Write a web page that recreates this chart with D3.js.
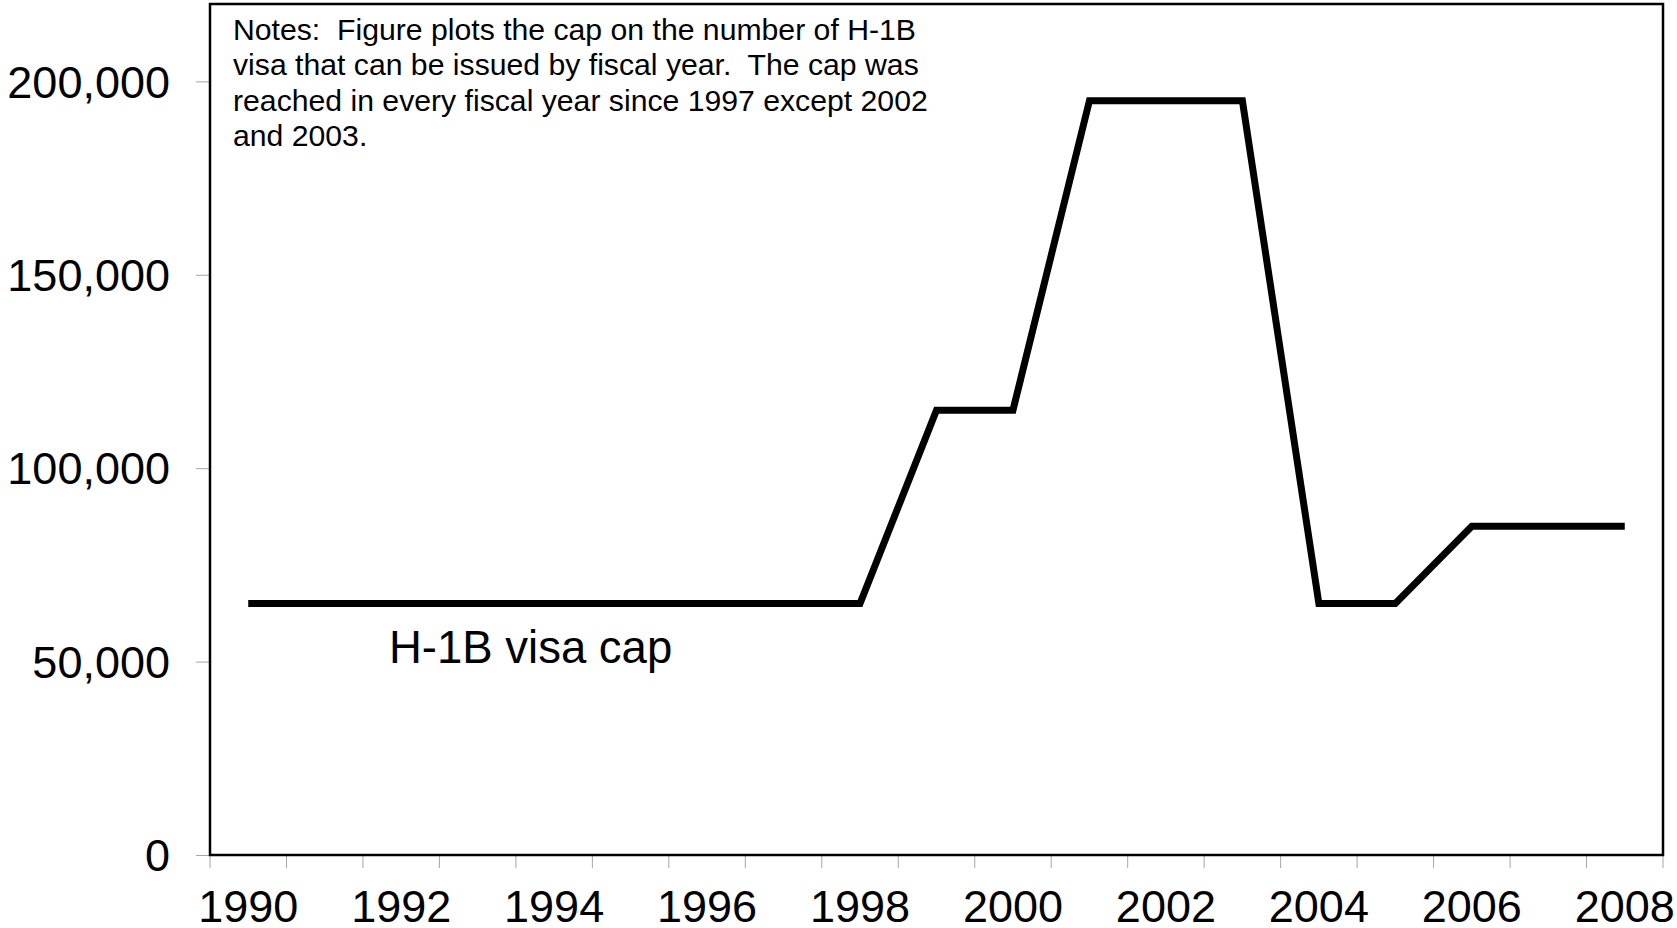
<!DOCTYPE html>
<html>
<head>
<meta charset="utf-8">
<script src="https://cdn.jsdelivr.net/npm/d3@7"></script>
<style>
  html, body { margin: 0; padding: 0; background: #fff; }
  svg { display: block; }
  text { font-family: "Liberation Sans", Arial, sans-serif; fill: #000; }
</style>
</head>
<body>
<svg id="chart" width="1677" height="928"></svg>
<script>
const years = [1990,1991,1992,1993,1994,1995,1996,1997,1998,1999,2000,2001,2002,2003,2004,2005,2006,2007,2008];
const capValues = [65000,65000,65000,65000,65000,65000,65000,65000,65000,115000,115000,195000,195000,195000,65000,65000,85000,85000,85000];
const yTicks = [0,50000,100000,150000,200000];
const xTickLabels = [1990,1992,1994,1996,1998,2000,2002,2004,2006,2008];
const seriesLabel = "H-1B visa cap";
const notesLines = [
  "Notes:  Figure plots the cap on the number of H-1B",
  "visa that can be issued by fiscal year.  The cap was",
  "reached in every fiscal year since 1997 except 2002",
  "and 2003."
];

const svg = d3.select("#chart");
const mLeft = 210, mRight = 1663, mTop = 4, mBottom = 855;

const x = d3.scaleBand().domain(years).range([mLeft, mRight]).padding(0);
const y = d3.scaleLinear().domain([0, 220000]).range([mBottom, mTop]);

// Y axis ticks + labels
const yAxis = d3.axisLeft(y).tickValues(yTicks).tickSize(14).tickPadding(26)
  .tickFormat(d3.format(","));
const gy = svg.append("g").attr("transform", `translate(${mLeft},0)`).call(yAxis);
gy.select(".domain").remove();
gy.selectAll(".tick line").attr("stroke", "#a6a6a6").attr("stroke-width", 1);
gy.selectAll(".tick text").attr("font-size", 45).attr("font-family", "Liberation Sans, Arial, sans-serif").attr("fill", "#000").attr("dy", "0.35em");

// X axis: ticks at band boundaries
const boundaries = years.map(d => x(d)).concat([x(years[years.length-1]) + x.bandwidth()]);
svg.append("g").selectAll("line").data(boundaries).join("line")
  .attr("x1", d => d).attr("x2", d => d)
  .attr("y1", mBottom).attr("y2", mBottom + 13)
  .attr("stroke", "#a6a6a6").attr("stroke-width", 1);
svg.append("g").selectAll("text").data(xTickLabels).join("text")
  .attr("x", d => x(d) + x.bandwidth()/2)
  .attr("y", 922)
  .attr("text-anchor", "middle")
  .attr("font-size", 45)
  .text(d => d);

// Frame
svg.append("rect")
  .attr("x", mLeft).attr("y", mTop)
  .attr("width", mRight - mLeft).attr("height", mBottom - mTop)
  .attr("fill", "none").attr("stroke", "#000").attr("stroke-width", 2.5);

// Line
const data = years.map((yr, i) => ({yr, v: capValues[i]}));
const line = d3.line().x(d => x(d.yr) + x.bandwidth()/2).y(d => y(d.v));
svg.append("path").datum(data)
  .attr("d", line)
  .attr("fill", "none").attr("stroke", "#000")
  .attr("stroke-width", 7).attr("stroke-linejoin", "miter");

// Series label
svg.append("text").attr("x", 389).attr("y", 663).attr("font-size", 45.5).text(seriesLabel);

// Notes
svg.append("g").selectAll("text").data(notesLines).join("text")
  .attr("x", 233).attr("y", (d, i) => 40 + i * 35.3)
  .attr("font-size", 30.2)
  .style("white-space", "pre")
  .attr("xml:space", "preserve")
  .text(d => d);
</script>
</body>
</html>
